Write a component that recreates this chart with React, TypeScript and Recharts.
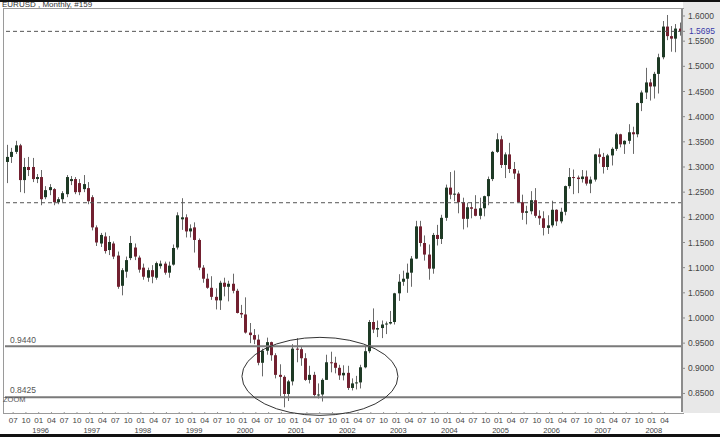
import React from "react";
import { ComposedChart, Bar, XAxis, YAxis, ReferenceLine, ReferenceDot } from "recharts";

// monthly EURUSD candles, May 1995 .. Jul 2008 (159 bars)
const startYear = 1995;
const startMonth = 5;

const open = [
  1.310, 1.320, 1.330, 1.343, 1.274, 1.300, 1.300, 1.276,
  1.280, 1.240, 1.254, 1.256, 1.230, 1.236, 1.246, 1.272, 1.276, 1.268, 1.256, 1.258,
  1.240, 1.180, 1.148, 1.162, 1.135, 1.148, 1.124, 1.064, 1.092, 1.119, 1.140, 1.120,
  1.100, 1.080, 1.095, 1.080, 1.103, 1.108, 1.090, 1.106, 1.140, 1.196, 1.200, 1.172,
  1.180, 1.155, 1.100, 1.078, 1.060, 1.042, 1.035, 1.070, 1.062, 1.068, 1.054, 1.010,
  1.007, 0.971, 0.966, 0.957, 0.911, 0.935, 0.952, 0.926, 0.887, 0.883, 0.849, 0.874,
  0.939, 0.938, 0.920, 0.877, 0.887, 0.847, 0.848, 0.877, 0.912, 0.911, 0.901, 0.886,
  0.891, 0.861, 0.870, 0.872, 0.902, 0.934, 0.992, 0.977, 0.980, 0.987, 0.989, 0.992,
  1.049, 1.072, 1.078, 1.090, 1.118, 1.182, 1.149, 1.126, 1.098, 1.165, 1.157, 1.199,
  1.259, 1.245, 1.247, 1.230, 1.197, 1.220, 1.217, 1.203, 1.218, 1.242, 1.276, 1.330,
  1.355, 1.304, 1.325, 1.296, 1.287, 1.230, 1.209, 1.212, 1.234, 1.203, 1.198, 1.179,
  1.184, 1.215, 1.192, 1.211, 1.262, 1.280, 1.279, 1.276, 1.281, 1.267, 1.275, 1.325,
  1.320, 1.300, 1.323, 1.336, 1.365, 1.345, 1.352, 1.369, 1.365, 1.427, 1.448, 1.468,
  1.460, 1.485, 1.518, 1.579, 1.560, 1.555, 1.575,
];
const high = [
  1.344, 1.338, 1.352, 1.346, 1.318, 1.320, 1.318, 1.286,
  1.294, 1.262, 1.266, 1.258, 1.240, 1.252, 1.284, 1.282, 1.280, 1.276, 1.284, 1.270,
  1.244, 1.184, 1.169, 1.170, 1.163, 1.152, 1.132, 1.099, 1.122, 1.163, 1.148, 1.124,
  1.108, 1.100, 1.105, 1.112, 1.114, 1.112, 1.112, 1.146, 1.210, 1.238, 1.206, 1.186,
  1.190, 1.158, 1.105, 1.088, 1.083, 1.059, 1.074, 1.080, 1.074, 1.088, 1.058, 1.026,
  1.041, 0.990, 0.978, 0.967, 0.939, 0.961, 0.953, 0.930, 0.908, 0.886, 0.877, 0.948,
  0.960, 0.942, 0.930, 0.905, 0.893, 0.870, 0.880, 0.927, 0.933, 0.923, 0.907, 0.906,
  0.905, 0.880, 0.885, 0.907, 0.943, 0.996, 1.019, 0.995, 0.995, 0.993, 1.014, 1.050,
  1.087, 1.094, 1.108, 1.123, 1.193, 1.193, 1.164, 1.146, 1.169, 1.185, 1.205, 1.265,
  1.290, 1.293, 1.250, 1.239, 1.229, 1.230, 1.244, 1.239, 1.243, 1.281, 1.332, 1.367,
  1.362, 1.329, 1.348, 1.310, 1.293, 1.245, 1.223, 1.252, 1.258, 1.214, 1.212, 1.204,
  1.233, 1.216, 1.219, 1.263, 1.298, 1.295, 1.283, 1.294, 1.293, 1.281, 1.326, 1.337,
  1.328, 1.326, 1.339, 1.368, 1.366, 1.353, 1.385, 1.380, 1.428, 1.452, 1.497, 1.475,
  1.489, 1.525, 1.590, 1.602, 1.580, 1.584, 1.587,
];
const low = [
  1.268, 1.308, 1.326, 1.250, 1.248, 1.282, 1.270, 1.268,
  1.224, 1.236, 1.244, 1.224, 1.226, 1.230, 1.240, 1.264, 1.246, 1.244, 1.250, 1.226,
  1.174, 1.143, 1.141, 1.128, 1.125, 1.117, 1.058, 1.045, 1.080, 1.115, 1.115, 1.090,
  1.076, 1.072, 1.069, 1.076, 1.098, 1.086, 1.080, 1.104, 1.136, 1.175, 1.160, 1.160,
  1.130, 1.095, 1.070, 1.058, 1.036, 1.017, 1.016, 1.043, 1.033, 1.049, 1.009, 1.000,
  0.969, 0.950, 0.948, 0.906, 0.884, 0.927, 0.915, 0.880, 0.844, 0.8225, 0.835, 0.866,
  0.912, 0.905, 0.875, 0.870, 0.844, 0.840, 0.834, 0.877, 0.892, 0.890, 0.877, 0.876,
  0.857, 0.856, 0.858, 0.860, 0.900, 0.930, 0.970, 0.962, 0.960, 0.968, 0.987, 0.987,
  1.034, 1.064, 1.050, 1.062, 1.117, 1.142, 1.114, 1.076, 1.088, 1.144, 1.147, 1.193,
  1.236, 1.232, 1.208, 1.176, 1.180, 1.198, 1.202, 1.196, 1.202, 1.224, 1.272, 1.328,
  1.298, 1.278, 1.288, 1.276, 1.229, 1.195, 1.186, 1.206, 1.199, 1.185, 1.164, 1.167,
  1.180, 1.183, 1.188, 1.204, 1.257, 1.246, 1.248, 1.269, 1.263, 1.248, 1.271, 1.307,
  1.287, 1.294, 1.303, 1.332, 1.339, 1.326, 1.346, 1.326, 1.359, 1.411, 1.435, 1.432,
  1.436, 1.446, 1.514, 1.552, 1.529, 1.528, 1.561,
];
const close = [
  1.320, 1.330, 1.343, 1.274, 1.300, 1.294, 1.276, 1.280,
  1.236, 1.254, 1.260, 1.230, 1.236, 1.248, 1.280, 1.276, 1.250, 1.250, 1.266, 1.232,
  1.180, 1.150, 1.165, 1.133, 1.151, 1.122, 1.062, 1.095, 1.115, 1.149, 1.122, 1.096,
  1.082, 1.095, 1.082, 1.109, 1.108, 1.090, 1.104, 1.139, 1.204, 1.200, 1.172, 1.178,
  1.155, 1.100, 1.078, 1.060, 1.042, 1.035, 1.070, 1.062, 1.068, 1.054, 1.010, 1.007,
  0.971, 0.966, 0.957, 0.911, 0.935, 0.952, 0.926, 0.887, 0.883, 0.849, 0.874, 0.939,
  0.938, 0.920, 0.877, 0.887, 0.847, 0.848, 0.877, 0.912, 0.911, 0.901, 0.886, 0.891,
  0.861, 0.870, 0.872, 0.902, 0.934, 0.992, 0.977, 0.980, 0.987, 0.989, 0.992, 1.049,
  1.072, 1.078, 1.090, 1.118, 1.182, 1.149, 1.126, 1.098, 1.165, 1.157, 1.199, 1.259,
  1.245, 1.247, 1.230, 1.197, 1.220, 1.217, 1.203, 1.218, 1.242, 1.276, 1.330, 1.355,
  1.304, 1.325, 1.296, 1.287, 1.230, 1.209, 1.212, 1.234, 1.203, 1.198, 1.179, 1.184,
  1.215, 1.192, 1.211, 1.262, 1.280, 1.279, 1.276, 1.281, 1.267, 1.275, 1.325, 1.320,
  1.300, 1.323, 1.336, 1.365, 1.345, 1.352, 1.369, 1.365, 1.427, 1.448, 1.468, 1.460,
  1.485, 1.518, 1.579, 1.560, 1.555, 1.575, 1.5695,
];

const priceTicks = [0.85, 0.9, 0.95, 1.0, 1.05, 1.1, 1.15, 1.2, 1.25, 1.3, 1.35, 1.4, 1.45, 1.5, 1.55, 1.6];
const bidLine = 1.5695;
const resistance = 1.229;
const support1 = 0.944;
const support2 = 0.8425;

const months = open.map((_, i) => {
  const t = startMonth - 1 + i;
  const yr = startYear + Math.floor(t / 12);
  const mo = (t % 12) + 1;
  return `${yr}-${String(mo).padStart(2, "0")}`;
});
const lastLabel = "2008-04";

const data = months.map((m, i) => ({
  m,
  o: open[i],
  h: high[i],
  l: low[i],
  c: close[i],
  range: [low[i], high[i]],
}));

const font = "Arial, 'Liberation Sans', sans-serif";
const bull = "#1e3a25";
const bear = "#722030";

const Candle = (props: any) => {
  const { x, y, width, height, payload } = props;
  const { o, h, l, c } = payload;
  const k = height / (h - l);
  const yOf = (v: number) => y + (h - v) * k;
  const top = yOf(Math.max(o, c));
  const bot = yOf(Math.min(o, c));
  const cx = Math.round(x + width / 2) + 0.5;
  const bw = 3;
  return (
    <g>
      <line x1={cx} x2={cx} y1={y} y2={y + height} stroke="#6a6a6a" strokeWidth={1} />
      <rect
        x={cx - bw / 2}
        y={top}
        width={bw}
        height={Math.max(1, bot - top)}
        fill={c >= o ? bull : bear}
      />
    </g>
  );
};

const MonthTick = (props: any) => {
  const { x, y, payload } = props;
  const value = String(payload.value);
  const [yr, mo] = value.split("-");
  if (!["01", "04", "07", "10"].includes(mo) || value > lastLabel) return <g />;
  const tx = x - 2.5;
  return (
    <g>
      <line x1={tx} x2={tx} y1={y} y2={y + 2} stroke="#999" />
      <text x={tx} y={y + 11} textAnchor="middle" fontSize={8} fontFamily={font} fill="#444">
        {mo}
      </text>
      {mo === "01" && (
        <text x={tx + 2} y={y + 20.5} textAnchor="middle" fontSize={7.5} fontFamily={font} fill="#444">
          {yr}
        </text>
      )}
    </g>
  );
};

const leftLabel = (text: string, dy: number, extra?: string) => (props: any) => {
  const vb = props.viewBox || {};
  return (
    <g>
      <text x={(vb.x || 0) + 5} y={(vb.y || 0) + dy} fontSize={8.5} fontFamily={font} fill="#555">
        {text}
      </text>
      {extra && (
        <text x={(vb.x || 0) - 2} y={(vb.y || 0) + 5} fontSize={7.5} fontFamily={font} fill="#555">
          {extra}
        </text>
      )}
    </g>
  );
};

const bidLabel = (props: any) => {
  const vb = props.viewBox || {};
  const ax = (vb.x || 0) + (vb.width || 0);
  return (
    <g>
      <line x1={ax} x2={ax + 3} y1={vb.y} y2={vb.y} stroke="#888" />
      <text x={ax + 7} y={(vb.y || 0) + 3} fontSize={8.5} fontFamily={font} fill="#3a3aa8">
        {bidLine.toFixed(4)}
      </text>
    </g>
  );
};

export default function App() {
  return (
    <div
      style={{
        position: "absolute",
        left: 0,
        top: 0,
        width: 720,
        height: 437,
        background: "#fff",
        overflow: "hidden",
      }}
    >
      <div style={{ position: "absolute", left: 0, top: 0, width: 720, height: 2, background: "#111" }} />
      <div style={{ position: "absolute", left: 683, top: 2, width: 37, height: 411, background: "#e8e8e8" }} />
      <div
        style={{
          position: "absolute",
          left: 3,
          top: 8,
          width: 680,
          height: 404,
          borderLeft: "1px solid #9a9a9a",
          borderTop: "1px solid #9a9a9a",
          borderBottom: "1px solid #9a9a9a",
        }}
      />
      <div
        style={{
          position: "absolute",
          left: 2,
          top: 0,
          fontSize: 8,
          lineHeight: "9px",
          fontFamily: font,
          color: "#333",
        }}
      >
        EURUSD , Monthly, #159
      </div>
      <div style={{ position: "absolute", left: 0, top: 434, width: 720, height: 3, background: "#111" }} />
      <div style={{ position: "absolute", left: 0, top: 0 }}>
        <ComposedChart
          width={720}
          height={437}
          data={data}
          margin={{ top: 9, right: 0, bottom: 0, left: 5 }}
          barCategoryGap={1}
        >
          <XAxis
            dataKey="m"
            interval={0}
            tickLine={false}
            axisLine={false}
            tickSize={0}
            tickMargin={0}
            height={25}
            tick={<MonthTick />}
          />
          <YAxis
            orientation="right"
            type="number"
            domain={[0.8132, 1.6139]}
            ticks={priceTicks}
            tickFormatter={(v: number) => v.toFixed(4)}
            width={38}
            axisLine={{ stroke: "#8c8c8c", strokeWidth: 2 }}
            tickLine={{ stroke: "#8c8c8c" }}
            tickSize={3}
            tickMargin={3}
            tick={{ fontSize: 8.5, fontFamily: font, fill: "#444" }}
            allowDataOverflow
          />
          <ReferenceLine y={bidLine} stroke="#555" strokeDasharray="4 3" label={bidLabel} />
          <ReferenceLine y={resistance} stroke="#555" strokeDasharray="4 3" />
          <ReferenceLine y={support1} stroke="#7a7a7a" strokeWidth={2} label={leftLabel("0.9440", -3)} />
          <ReferenceLine
            y={support2}
            stroke="#7a7a7a"
            strokeWidth={2}
            label={leftLabel("0.8425", -4, "ZOOM")}
          />
          <Bar dataKey="range" shape={<Candle />} isAnimationActive={false} />
          <ReferenceDot
            x={months[73]}
            y={0.884}
            ifOverflow="visible"
            shape={(p: any) => (
              <ellipse cx={p.cx + 2} cy={p.cy} rx={78} ry={39} fill="none" stroke="#333" strokeWidth={1} />
            )}
          />
        </ComposedChart>
      </div>
    </div>
  );
}
